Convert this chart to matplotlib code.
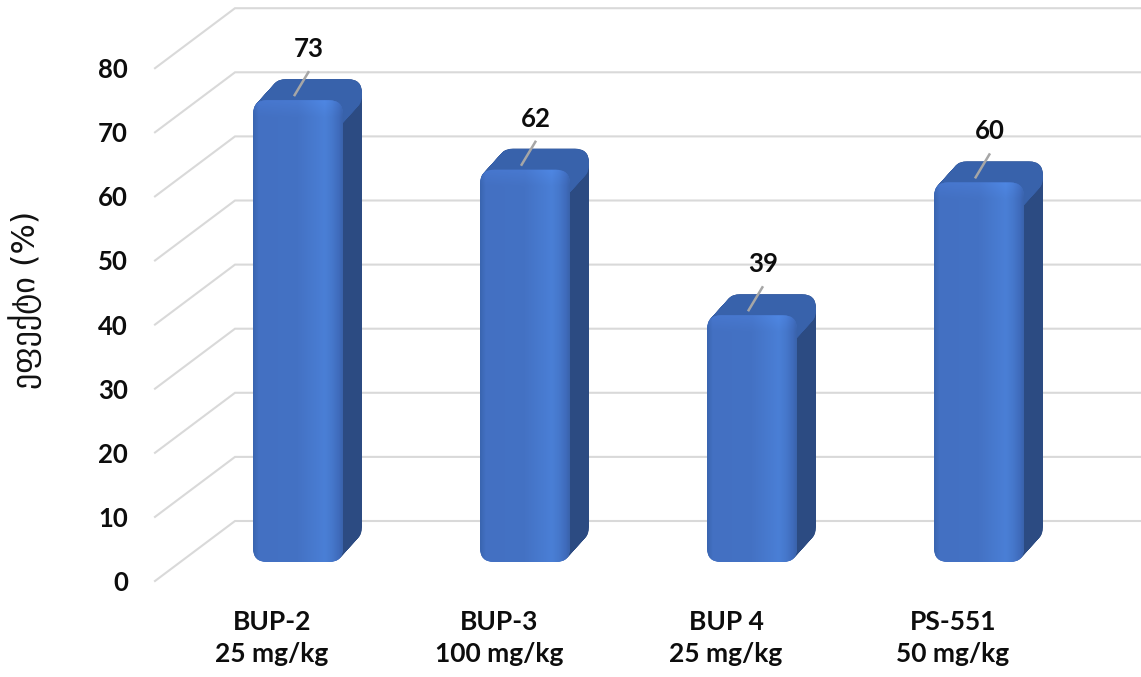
import numpy as np
import matplotlib
matplotlib.use("Agg")
import matplotlib.pyplot as plt
from matplotlib.patches import FancyBboxPatch
from matplotlib.colors import to_rgb

# data
categories = ["BUP-2", "BUP-3", "BUP 4", "PS-551"]
doses = ["25 mg/kg", "100 mg/kg", "25 mg/kg", "50 mg/kg"]
effect = [73, 62, 39, 60]
y_ticks = [0, 10, 20, 30, 40, 50, 60, 70, 80]
y_label = "ეფექტი (%)"

plt.rcParams['font.family'] = ['Lato', 'DejaVu Sans']

W, H = 1141, 677
fig = plt.figure(figsize=(W / 100, H / 100), dpi=100)
ax = fig.add_axes([0, 0, 1, 1])
ax.axis('off')

# pixel scale of the fake 3d view
CAT_PX = 227.0   # px per category
VAL_PX = 6.41    # px per value unit
X0_PX = 272.0    # x pixel of first category (front plane)
Y0_PX = 581.0    # y pixel (from top) of value 0 on the front plane


def dx(p):
    return p / CAT_PX


def dy(p):
    return p / VAL_PX


xmin, xmax = -X0_PX / CAT_PX, (W - X0_PX) / CAT_PX
ax.set_xlim(xmin, xmax)
ax.set_ylim(-(H - Y0_PX) / VAL_PX, Y0_PX / VAL_PX)

txt_c = '#0d0d0d'
grid_c = '#d9d9d9'

# floor / back wall gridlines
floor_x0 = dx(155 - X0_PX)
fdx, fdy = dx(80), dy(60)
for v in y_ticks:
    ax.plot([floor_x0, floor_x0 + fdx, xmax], [v, v + fdy, v + fdy],
            color=grid_c, lw=1.5, zorder=1, solid_joinstyle='miter')
    ax.text(floor_x0 - dx(27), v, str(v), ha='right', va='center_baseline',
            fontsize=18.5, fontweight='bold', color=txt_c)

# bars
side_c = '#2c4b82'
top_c = '#3862ab'
bar_w = dx(90)
bar_off = dx(26)
bar_base = dy(19)
persp = 0.987
bdx, bdy = dx(19), dy(21)
r = dx(14)
asp = CAT_PX / VAL_PX
style = f"round,pad=0,rounding_size={r}"

# front face shading (horizontal profile + top bevel)
nx, ny = 120, 200
u = np.linspace(0, 1, nx)
stops = [0.0, 0.06, 0.5, 0.8, 0.88, 0.96, 1.0]
cols = [to_rgb(c) for c in ['#3a65b0', '#4370c2', '#4472c4', '#4a7fd6',
                            '#4678cc', '#3f6bbb', '#3a63ac']]
prof = np.stack([np.interp(u, stops, [c[k] for c in cols]) for k in range(3)], axis=-1)

n_steps = 30
for i, v in enumerate(effect):
    x0 = i + bar_off - bar_w / 2
    y0 = bar_base
    h = v * persp
    for k in range(n_steps, 0, -1):
        t = k / n_steps
        ax.add_patch(FancyBboxPatch((x0 + t * bdx, y0 + t * bdy), bar_w, h,
                                    boxstyle=style, mutation_aspect=asp,
                                    fc=side_c, ec='none', zorder=2))
    cap_h = dy(30)
    for k in range(n_steps, 0, -1):
        t = k / n_steps
        ax.add_patch(FancyBboxPatch((x0 + t * bdx, y0 + h - cap_h + t * bdy), bar_w, cap_h,
                                    boxstyle=style, mutation_aspect=asp,
                                    fc=top_c, ec='none', zorder=2.5))
    front = FancyBboxPatch((x0, y0), bar_w, h, boxstyle=style, mutation_aspect=asp,
                           fc='#4472c4', ec='none', zorder=3)
    ax.add_patch(front)
    hpx = h * VAL_PX
    rows = np.linspace(0, hpx, ny)
    bevel = np.clip(1 - rows / 16.0, 0, 1)[:, None, None]
    img = prof[None, :, :] * (1 + 0.06 * bevel)
    img = np.clip(img, 0, 1)
    im = ax.imshow(img, extent=(x0, x0 + bar_w, y0, y0 + h), aspect='auto',
                   interpolation='bilinear', zorder=3.1)
    im.set_clip_path(front)

    # leader line + value label
    cx = i + bar_off
    top = y0 + h
    ax.plot([cx - dx(4), cx + dx(11)], [top + dy(4), top + dy(29)],
            color='#a6a6a6', lw=1.8, zorder=5, solid_capstyle='butt')
    ax.text(cx + dx(11), top + dy(53), str(v), ha='center', va='center_baseline',
            fontsize=18.5, fontweight='bold', color=txt_c, zorder=6)

# category labels
for i, (c, d) in enumerate(zip(categories, doses)):
    ax.text(i, -dy(638 - Y0_PX), f"{c}\n{d}", ha='center', va='center',
            fontsize=19, fontweight='bold', color=txt_c, linespacing=1.4)

ax.text(dx(26 - X0_PX), dy(Y0_PX - 300), y_label, rotation=90, ha='center',
        va='center', fontsize=23, color='#111111', family=['DejaVu Sans'])

ax.set_xlim(xmin, xmax)
ax.set_ylim(-(H - Y0_PX) / VAL_PX, Y0_PX / VAL_PX)
fig.savefig('out.png', dpi=100)
